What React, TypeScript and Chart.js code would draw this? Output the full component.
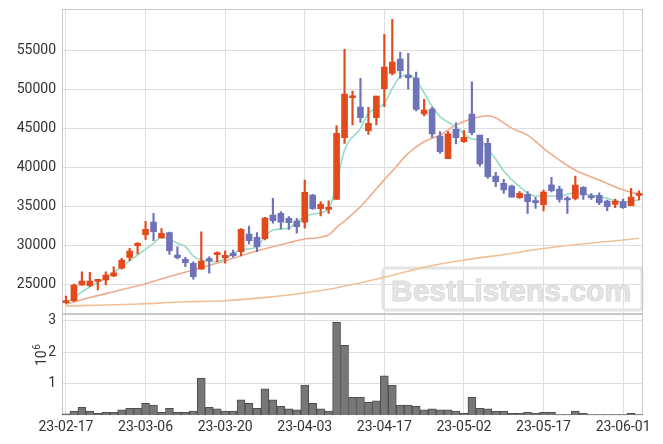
import React, { useEffect, useRef } from 'react';
import { Chart, registerables } from 'chart.js';
Chart.register(...registerables);

const dates = [
  '23-02-17', '23-02-20', '23-02-21', '23-02-22', '23-02-23', '23-02-24', '23-02-27', '23-02-28', '23-03-02', '23-03-03',
  '23-03-06', '23-03-07', '23-03-08', '23-03-09', '23-03-10', '23-03-13', '23-03-14', '23-03-15', '23-03-16', '23-03-17',
  '23-03-20', '23-03-21', '23-03-22', '23-03-23', '23-03-24', '23-03-27', '23-03-28', '23-03-29', '23-03-30', '23-03-31',
  '23-04-03', '23-04-04', '23-04-05', '23-04-06', '23-04-07', '23-04-10', '23-04-11', '23-04-12', '23-04-13', '23-04-14',
  '23-04-17', '23-04-18', '23-04-19', '23-04-20', '23-04-21', '23-04-24', '23-04-25', '23-04-26', '23-04-27', '23-04-28',
  '23-05-02', '23-05-03', '23-05-04', '23-05-08', '23-05-09', '23-05-10', '23-05-11', '23-05-12', '23-05-15', '23-05-16',
  '23-05-17', '23-05-18', '23-05-19', '23-05-22', '23-05-23', '23-05-24', '23-05-25', '23-05-26', '23-05-30', '23-05-31',
  '23-06-01', '23-06-02', '23-06-05',
];

const opens = [
  22650, 22900, 24910, 24820, 25380, 25550, 26060, 27050, 28450, 29940,
  31350, 32980, 30930, 31610, 28750, 28200, 27690, 26920, 28280, 28790,
  28410, 29010, 29170, 31440, 31020, 30840, 33870, 34090, 33450, 33100,
  32940, 36430, 34680, 34600, 35880, 43770, 48890, 47700, 44670, 46330,
  50040, 52010, 53850, 51800, 51410, 46800, 47450, 43990, 41080, 44850,
  43260, 46800, 44120, 43050, 38870, 37930, 37590, 36090, 36520, 35670,
  35190, 37750, 37200, 35960, 36010, 37420, 36310, 36400, 35670, 35240,
  35580, 35060, 36390,
];
const highs = [
  23500, 25040, 26610, 26540, 25640, 26610, 27250, 28330, 29610, 30350,
  33070, 34090, 32120, 31700, 29810, 28460, 27890, 31730, 28530, 29140,
  29260, 29390, 32120, 32460, 31610, 33580, 36010, 34300, 33660, 33450,
  38350, 36520, 35580, 35700, 45310, 55090, 49750, 51380, 47660, 49110,
  57010, 58930, 54700, 54570, 52180, 48690, 47660, 44540, 44540, 45690,
  44670, 50940, 44120, 43690, 39340, 38440, 37700, 36860, 36860, 36140,
  37070, 38700, 37590, 36220, 38870, 37500, 36600, 36700, 35790, 35900,
  35900, 37290, 36980,
];
const lows = [
  22550, 22800, 24850, 24690, 24270, 24910, 25970, 26920, 28020, 28880,
  30760, 30580, 30890, 28840, 28240, 27250, 25640, 26920, 26410, 27890,
  27690, 28460, 28620, 30160, 29170, 30670, 32810, 32080, 32040, 31530,
  32170, 34600, 33750, 34090, 35880, 43050, 45400, 45740, 44200, 45400,
  47740, 51800, 51380, 49970, 47190, 46550, 43820, 41770, 41080, 42960,
  43180, 44120, 40140, 38570, 37500, 36650, 36140, 36000, 34090, 34730,
  34380, 36820, 35500, 34090, 35790, 35880, 35880, 35200, 34420, 34800,
  34700, 35060, 35790,
];
const closes = [
  22900, 24910, 25420, 25420, 25450, 26190, 26480, 28110, 29260, 30250,
  32040, 31730, 31530, 29300, 28410, 27770, 25970, 27980, 28020, 29010,
  28710, 28660, 32040, 30580, 29810, 33490, 33140, 32940, 32890, 32370,
  36780, 34680, 35240, 34860, 44330, 49370, 49120, 46330, 45610, 49110,
  52820, 53460, 52350, 51450, 47400, 47310, 44250, 41980, 44250, 43770,
  43820, 44410, 40400, 38780, 38140, 37070, 36140, 36650, 35580, 35450,
  36820, 36980, 35880, 35790, 37710, 36430, 36090, 35450, 34940, 35670,
  34810, 36180, 36600,
];
const volumes = [
  0.04, 0.13, 0.25, 0.13, 0.06, 0.09, 0.09, 0.17, 0.22, 0.22,
  0.38, 0.32, 0.09, 0.22, 0.09, 0.09, 0.13, 1.18, 0.25, 0.2,
  0.13, 0.13, 0.49, 0.38, 0.22, 0.84, 0.49, 0.28, 0.2, 0.17,
  0.96, 0.38, 0.2, 0.13, 2.95, 2.22, 0.57, 0.57, 0.41, 0.46,
  1.25, 0.96, 0.32, 0.32, 0.28, 0.17, 0.2, 0.17, 0.17, 0.13,
  0.06, 0.57, 0.22, 0.2, 0.13, 0.13, 0.06, 0.06, 0.09, 0.06,
  0.09, 0.09, 0.02, 0.02, 0.13, 0.06, 0.02, 0.02, 0.02, 0.02,
  0.02, 0.06, 0.02,
];

// moving-average lines at these candle positions
const maShortIdx = [0, 3, 5, 7, 9, 11, 12, 13, 14, 15, 16, 17, 19, 20, 22, 24, 25, 26, 28, 29, 31, 33, 34, 35, 37, 38, 40, 41, 42, 43, 44, 45, 46, 47, 49, 51, 52, 53, 54, 55, 57, 59, 60, 62, 64, 65, 67, 69, 70, 72];
const maShortVal = [22570, 24690, 25770, 27250, 28750, 30250, 31020, 30760, 30250, 29810, 28620, 28110, 27890, 28330, 29390, 29810, 31090, 31950, 32170, 33010, 34000, 34600, 37930, 42190, 44970, 46890, 48170, 50090, 51580, 51800, 51160, 49500, 47800, 46460, 45180, 43600, 43470, 42300, 41000, 39500, 37500, 36300, 36310, 36310, 36730, 36560, 36220, 35750, 35500, 35790];
const maMidIdx = [0, 3, 6, 9, 13, 17, 20, 23, 25, 28, 30, 33, 34, 35, 37, 40, 41, 43, 45, 47, 49, 51, 53, 54, 56, 58, 59, 60, 62, 64, 67, 70, 72];
const maMidVal = [22450, 23300, 24050, 24800, 26000, 27130, 28020, 28970, 29550, 30330, 30800, 31310, 32300, 33100, 34940, 38400, 39500, 41770, 43260, 44120, 45400, 46200, 46590, 46300, 45000, 44100, 43300, 42400, 40910, 39600, 38350, 37100, 36520];
const maLongIdx = [0, 9, 15, 20, 26, 28, 33, 40, 45, 50, 57, 58, 72];
const maLongVal = [22220, 22480, 22770, 22900, 23410, 23630, 24360, 25900, 27180, 28110, 29100, 29300, 30890];

const xTickIdx = [0, 10, 20, 30, 40, 50, 60, 70];
const priceTicks = [25000, 30000, 35000, 40000, 45000, 50000, 55000];
const volTicks = [1, 2, 3];

const UP = '#e2491b';
const DOWN = '#6e72b6';
const GRID = '#dedede';
const FRAME = '#c9c9c9';
const FONT = 'Roboto';

function sparse(idx: number[], val: number[]) {
  const arr: (number | null)[] = dates.map(() => null);
  idx.forEach((k, j) => { arr[k] = val[j]; });
  return arr;
}

const decorPlugin = {
  id: 'decor',
  beforeDatasetsDraw(chart: any) {
    const { ctx, chartArea } = chart;
    const yP = chart.scales.y;
    const yV = chart.scales.yv;
    ctx.save();
    // watermark
    const bx = 383, by = 268, bw = 259, bh = 42;
    ctx.lineWidth = 3;
    ctx.strokeStyle = '#e3e3e3';
    ctx.beginPath();
    if (ctx.roundRect) ctx.roundRect(bx, by, bw, bh, 3); else ctx.rect(bx, by, bw, bh);
    ctx.stroke();
    ctx.font = 'bold 30px "Liberation Sans"';
    ctx.textBaseline = 'alphabetic';
    ctx.textAlign = 'left';
    ctx.fillStyle = '#e5e5e5';
    ctx.fillText('BestListens.com', 391, 301);
    ctx.lineWidth = 1;
    ctx.strokeStyle = '#d9d9d9';
    ctx.strokeText('BestListens.com', 391, 301);
    // panel frames
    ctx.strokeStyle = FRAME;
    ctx.lineWidth = 1;
    const l = Math.round(chartArea.left) + 0.5;
    const r = Math.round(chartArea.right) - 0.5;
    [yP, yV].forEach((s: any) => {
      const t = Math.round(s.top) + 0.5;
      const b = Math.round(s.bottom) - 0.5;
      ctx.strokeRect(l, t, r - l, b - t);
    });
    ctx.restore();
  },
  afterDraw(chart: any) {
    const { ctx } = chart;
    ctx.save();
    ctx.translate(46, 366);
    ctx.rotate(-Math.PI / 2);
    ctx.fillStyle = '#333';
    ctx.textBaseline = 'alphabetic';
    ctx.textAlign = 'left';
    ctx.font = `14px ${FONT}`;
    ctx.fillText('10', 0, 0);
    const w = ctx.measureText('10').width;
    ctx.font = `10px ${FONT}`;
    ctx.fillText('6', w + 0.5, -6);
    ctx.restore();
  },
};

const fitY = (s: any) => { s.width = 62; s.paddingTop = 0; s.paddingBottom = 0; };

export default function App() {
  const ref = useRef<HTMLCanvasElement>(null);
  useEffect(() => {
    const colors = closes.map((c, i) => (c >= opens[i] ? UP : DOWN));
    const tickFont = { size: 14, family: FONT };
    const chart = new Chart(ref.current as HTMLCanvasElement, {
      type: 'bar',
      data: {
        labels: dates,
        datasets: [
          {
            type: 'bar', label: 'body', data: opens.map((o, i) => [o, closes[i]]) as any,
            backgroundColor: colors, borderWidth: 0, barThickness: 6, grouped: false,
            minBarLength: 2, yAxisID: 'y', order: 0,
          } as any,
          {
            type: 'bar', label: 'wick', data: lows.map((lo, i) => [lo, highs[i]]) as any,
            backgroundColor: colors, borderWidth: 0, barThickness: 1.5, grouped: false,
            yAxisID: 'y', order: 1,
          } as any,
          {
            type: 'line', label: 'MA short', data: sparse(maShortIdx, maShortVal),
            borderColor: '#95dcc4', borderWidth: 1.6, pointRadius: 0, spanGaps: true,
            cubicInterpolationMode: 'monotone', yAxisID: 'y', order: 2,
          } as any,
          {
            type: 'line', label: 'MA mid', data: sparse(maMidIdx, maMidVal),
            borderColor: '#eeac8c', borderWidth: 1.6, pointRadius: 0, spanGaps: true,
            cubicInterpolationMode: 'monotone', yAxisID: 'y', order: 3,
          } as any,
          {
            type: 'line', label: 'MA long', data: sparse(maLongIdx, maLongVal),
            borderColor: '#f0c096', borderWidth: 1.6, pointRadius: 0, spanGaps: true,
            cubicInterpolationMode: 'monotone', yAxisID: 'y', order: 4,
          } as any,
          {
            type: 'bar', label: 'volume', data: volumes,
            backgroundColor: '#777777', borderColor: '#4e4e4e', borderWidth: 1,
            barPercentage: 1, categoryPercentage: 1, grouped: false, yAxisID: 'yv', order: 5,
          } as any,
        ],
      },
      options: {
        responsive: true,
        maintainAspectRatio: false,
        animation: false,
        layout: { padding: { top: 9, right: 20, bottom: 4, left: 0 } },
        plugins: { legend: { display: false }, tooltip: { enabled: false } },
        scales: {
          x: {
            type: 'category', offset: true,
            grid: { offset: false, color: GRID, drawTicks: false },
            border: { display: false },
            ticks: { autoSkip: false, maxRotation: 0, padding: 4, color: '#333', font: tickFont },
            afterBuildTicks: (s: any) => { s.ticks = xTickIdx.map((v) => ({ value: v })); },
          },
          yv: {
            type: 'linear', position: 'left', stack: 'panels', stackWeight: 1,
            min: 0, max: 3.23,
            grid: { color: GRID, drawTicks: false },
            border: { display: false },
            ticks: { padding: 6, color: '#333', font: tickFont, callback: (v: any) => String(v) },
            afterBuildTicks: (s: any) => { s.ticks = volTicks.map((v) => ({ value: v })); },
            afterFit: fitY,
          },
          y: {
            type: 'linear', position: 'left', stack: 'panels', stackWeight: 3,
            min: 21240, max: 60250,
            grid: { color: GRID, drawTicks: false },
            border: { display: false },
            ticks: { padding: 6, color: '#333', font: tickFont, callback: (v: any) => String(v) },
            afterBuildTicks: (s: any) => { s.ticks = priceTicks.map((v) => ({ value: v })); },
            afterFit: fitY,
          },
        } as any,
      },
      plugins: [decorPlugin],
    });
    return () => chart.destroy();
  }, []);
  return (
    <div style={{ position: 'fixed', left: 0, top: 0, width: 663, height: 444, background: '#fff' }}>
      <canvas ref={ref} />
    </div>
  );
}
